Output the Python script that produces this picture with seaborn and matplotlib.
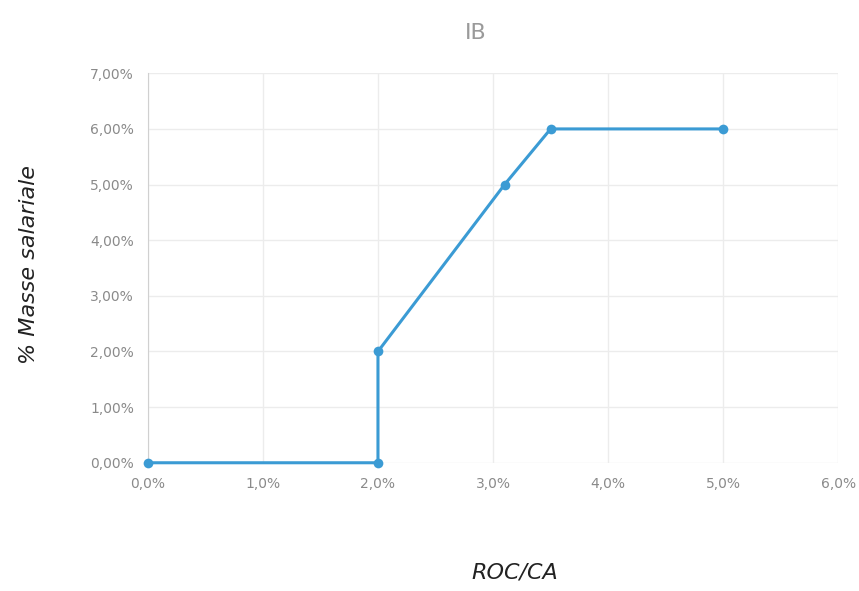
import pandas as pd
import matplotlib.pyplot as plt
import seaborn as sns
from matplotlib.ticker import FuncFormatter

# values (in %)
roc_ca = [0.0, 2.0, 2.0, 3.1, 3.5, 5.0]
masse_salariale = [0.0, 0.0, 2.0, 5.0, 6.0, 6.0]

df = pd.DataFrame({'roc_ca': roc_ca, 'masse': masse_salariale})

sns.set_style('white')
plt.rcParams['font.family'] = ['DejaVu Sans']

fig = plt.figure(figsize=(8.59, 5.91), dpi=100)
ax = fig.add_axes([0.172, 0.217, 0.804, 0.659])

sns.lineplot(x='roc_ca', y='masse', data=df, sort=False, estimator=None, ax=ax,
             color='#3b9bd4', linewidth=2.2, marker='o', markersize=7,
             markeredgewidth=0, clip_on=False, zorder=5)

ax.set_xlim(0, 6)
ax.set_ylim(0, 7)
ax.set_xticks([0, 1, 2, 3, 4, 5, 6])
ax.set_yticks([0, 1, 2, 3, 4, 5, 6, 7])
ax.xaxis.set_major_formatter(FuncFormatter(lambda v, p: f'{v:.1f}%'.replace('.', ',')))
ax.yaxis.set_major_formatter(FuncFormatter(lambda v, p: f'{v:.2f}%'.replace('.', ',')))
ax.tick_params(axis='both', colors='#8a8a8a', labelsize=10, length=0, pad=10)

ax.grid(True, color='#ececec', linewidth=1)
for s in ['top', 'right', 'bottom']:
    ax.spines[s].set_visible(False)
ax.spines['left'].set_color('#d0d0d0')

ax.set_xlabel('ROC/CA', fontsize=16, style='italic', color='#222222')
ax.set_ylabel('% Masse salariale', fontsize=16, style='italic', color='#222222')
ax.xaxis.set_label_coords(0.532, -0.255)
ax.yaxis.set_label_coords(-0.157, 0.51)
ax.set_title('IB', fontsize=16, color='#9a9a9a', pad=25, x=0.475)

fig.savefig('out.png', dpi=100, facecolor='white')
